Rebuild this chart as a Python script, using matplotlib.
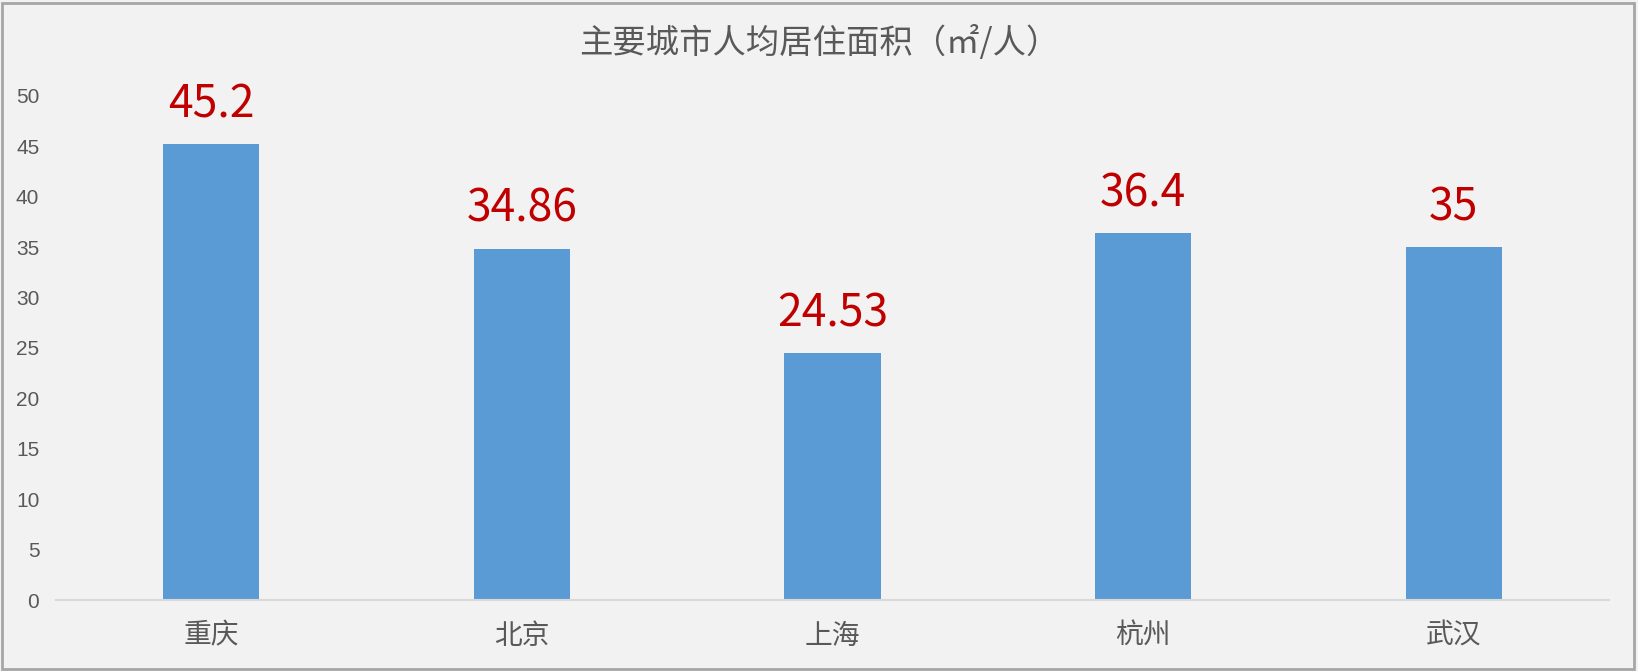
import matplotlib
matplotlib.use("Agg")
import matplotlib.pyplot as plt
from matplotlib.patches import Rectangle

plt.rcParams['font.family'] = ['Noto Sans CJK SC', 'DejaVu Sans']

cities = ["重庆", "北京", "上海", "杭州", "武汉"]
area = [45.2, 34.86, 24.53, 36.4, 35]
yticks = [0, 5, 10, 15, 20, 25, 30, 35, 40, 45, 50]

bg = "#F2F2F2"
fig = plt.figure(figsize=(16.38, 6.71), dpi=100, facecolor=bg)
ax = fig.add_axes([0.0342, 0.1058, 0.9481, 0.7512], facecolor=bg)

x = range(len(cities))
ax.bar(x, area, width=0.31, color="#5B9BD5", zorder=2)
for i, v in enumerate(area):
    # valeur au-dessus de chaque barre
    ax.annotate(f"{v:g}", (i, v), xytext=(0, 12), textcoords="offset points",
                ha="center", va="bottom", fontsize=32, color="#C00000",
                annotation_clip=False)

ax.set_xlim(-0.5, len(cities) - 0.5)
ax.set_ylim(0, 50)
ax.set_yticks(yticks)
ax.set_yticklabels([str(t) for t in yticks], family=['Liberation Sans'],
                   fontsize=15, color="#595959")
ax.set_xticks(list(x))
ax.set_xticklabels(cities, fontsize=20, color="#595959")
ax.tick_params(axis='y', length=0, pad=12)
ax.tick_params(axis='x', length=0, pad=15)
for s in ["top", "right", "left"]:
    ax.spines[s].set_visible(False)
ax.spines["bottom"].set_color("#D9D9D9")
ax.spines["bottom"].set_linewidth(1.5)

fig.text(0.5, 0.935, "主要城市人均居住面积（㎡/人）", ha="center", va="center",
         fontsize=24, color="#595959")

# cadre gris autour de la figure
fig.patches.append(Rectangle((0.0015, 0.003), 0.996, 0.992, transform=fig.transFigure,
                             fill=False, edgecolor="#A6A6A6", linewidth=2))

fig.savefig("out.png", dpi=100, facecolor=bg)
